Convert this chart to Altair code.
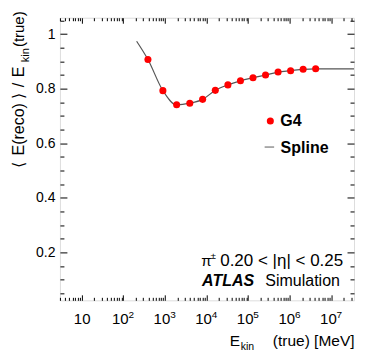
import altair as alt
import pandas as pd

# ---------------- data ----------------
e_kin_g4 = [391, 894, 1913, 3959, 8056, 16245, 32629, 65397, 130933,
            262004, 524148, 1048436, 2097012, 4194164]
resp_g4 = [0.907, 0.793, 0.741, 0.747, 0.761, 0.794, 0.814, 0.829, 0.840,
           0.850, 0.861, 0.866, 0.871, 0.873]

spline_e = [209, 391, 894, 1913, 3959, 8056, 16245, 32629, 65397, 130933,
            262004, 524148, 1048436, 2097012, 4194164, 35000000]
spline_r = [0.974, 0.907, 0.793, 0.741, 0.747, 0.761, 0.794, 0.814, 0.829,
            0.840, 0.850, 0.861, 0.866, 0.871, 0.873, 0.873]

x_major = [10, 100, 1000, 10000, 100000, 1000000, 10000000]
x_ticks = [m * 10 ** k for k in range(0, 8) for m in range(1, 10)
           if 3 <= m * 10 ** k <= 3.5e7]
y_major = [0.2, 0.4, 0.6, 0.8, 1.0]
y_ticks = [round(0.05 * i, 2) for i in range(1, 22)]

X_DOMAIN = [3, 3.5e7]
Y_DOMAIN = [0.025, 1.06]
W, H = 294.5, 283
FONT = "Liberation Sans"

g4 = pd.DataFrame({"e": e_kin_g4, "r": resp_g4})
spl = pd.DataFrame({"e": spline_e, "r": spline_r})
one = pd.DataFrame({"k": [0]})

xs = alt.Scale(type="log", domain=X_DOMAIN, nice=False)
ys = alt.Scale(domain=Y_DOMAIN, nice=False, zero=False)

x_dec = "abs(log(datum.value)/LN10 - round(log(datum.value)/LN10)) < 0.001"
y_dec = "abs(datum.value*5 - round(datum.value*5)) < 0.001"
x_tsize = {"condition": {"test": x_dec, "value": 5.5}, "value": 3}
y_tsize = {"condition": {"test": y_dec, "value": 7}, "value": 4}

common_tick = dict(labels=False, domain=False, grid=False, title=None,
                   tickColor="black", tickWidth=1)

# axes
ax_x_lab = alt.Axis(orient="bottom", values=x_major, labelExpr="'10'",
                    tickSize=0, domain=False, grid=False, title=None,
                    labelFont=FONT, labelFontSize=15, labelColor="black",
                    labelPadding=11, labelFlush=False, labelOverlap=False,
                    labelOffset={"condition": {"test": "datum.value > 50", "value": -3.5}, "value": 0})
ax_x_exp = alt.Axis(orient="bottom", values=x_major[1:],
                    labelExpr="'' + round(log(datum.value)/LN10)",
                    tickSize=0, domain=False, grid=False, title=None,
                    labelFont=FONT, labelFontSize=10, labelColor="black",
                    labelPadding=9, labelOffset=7.5, labelFlush=False, labelOverlap=False)
ax_x_tb = alt.Axis(orient="top", offset=-H, values=x_ticks, tickSize=x_tsize, **common_tick)
ax_x_tt = alt.Axis(orient="bottom", offset=-H, values=x_ticks, tickSize=x_tsize, **common_tick)

ax_y_lab = alt.Axis(orient="left", values=y_major, format=".1~f", tickSize=0,
                    domain=False, grid=False, title=None, labelFont=FONT,
                    labelFontSize=14, labelColor="black", labelPadding=5,
                    labelFlush=False, labelOverlap=False)
ax_y_tl = alt.Axis(orient="right", offset=-W, values=y_ticks, tickSize=y_tsize, **common_tick)
ax_y_tr = alt.Axis(orient="left", offset=-W, values=y_ticks, tickSize=y_tsize, **common_tick)

line = alt.Chart(spl).mark_line(color="#555555", strokeWidth=1.2, interpolate="monotone").encode(
    x=alt.X("e:Q", scale=xs, axis=ax_x_lab),
    y=alt.Y("r:Q", scale=ys, axis=ax_y_lab),
)
pts = alt.Chart(g4).mark_point(filled=True, color="#ff0000", opacity=1, size=50).encode(
    x=alt.X("e:Q", scale=xs, axis=ax_x_exp),
    y=alt.Y("r:Q", scale=ys, axis=ax_y_tr),
)
inv1 = alt.Chart(g4).mark_point(opacity=0).encode(
    x=alt.X("e:Q", scale=xs, axis=ax_x_tb),
    y=alt.Y("r:Q", scale=ys, axis=ax_y_tl),
)
inv2 = alt.Chart(g4).mark_point(opacity=0).encode(
    x=alt.X("e:Q", scale=xs, axis=ax_x_tt),
    y=alt.Y("r:Q", scale=ys, axis=None),
)


def txt(s, x, y, size, weight="normal", style="normal", align="left", angle=0):
    return alt.Chart(one).mark_text(
        text=s, align=align, baseline="alphabetic", fontSize=size,
        fontWeight=weight, fontStyle=style, font=FONT, angle=angle, color="black"
    ).encode(x=alt.value(x), y=alt.value(y))


# y title pieces (rotated, centred on positions)
YT_X = -35.5
texts = [
    txt("(true)", YT_X, 11.5, 15, align="center", angle=270),
    txt("kin", YT_X + 4.5, 37.5, 11, align="center", angle=270),
    txt("E", YT_X, 54.2, 16, align="center", angle=270),
    txt("/", YT_X, 67.5, 16, align="center", angle=270),
    txt("\u27e9", YT_X, 78.3, 16, align="center", angle=270),
    txt("E(reco)", YT_X, 111.7, 16, align="center", angle=270),
    txt("\u27e8", YT_X, 147.5, 16, align="center", angle=270),
    # x title
    txt("E", 170, 328.5, 15.5),
    txt("kin", 181, 332.5, 10.5),
    txt("(true) [MeV]", 295, 328.5, 15.5, align="right"),
    # legend
    txt("G4", 220.7, 108.5, 16, weight="bold"),
    txt("Spline", 221, 135.2, 16, weight="bold"),
    # annotations
    txt("\u03c0", 141.5, 248.2, 15),
    txt("\u00b1", 150.8, 242, 10),
    txt("0.20 < |\u03b7| < 0.25", 160.5, 248.2, 17),
    txt("ATLAS", 142.3, 268.5, 16, weight="bold", style="italic"),
    txt("Simulation", 205.7, 268.5, 16),
]

leg_dot = alt.Chart(one).mark_point(filled=True, color="#ff0000", opacity=1, size=50).encode(
    x=alt.value(210.7), y=alt.value(103.5))
leg_line = alt.Chart(one).mark_rule(color="#777777", strokeWidth=1.2).encode(
    x=alt.value(205), x2=alt.value(214.5), y=alt.value(129.5))

chart = alt.layer(line, pts, inv1, inv2, leg_dot, leg_line, *texts).resolve_axis(
    x="independent", y="independent"
).properties(
    width=W, height=H,
    autosize=alt.AutoSizeParams(type="none"),
    padding={"left": 52, "top": 9.5, "right": 12, "bottom": 55},
).configure_view(stroke="black", strokeWidth=1).configure(background="white")

chart.save("out.html", embed_options={"renderer": "svg", "actions": False})
